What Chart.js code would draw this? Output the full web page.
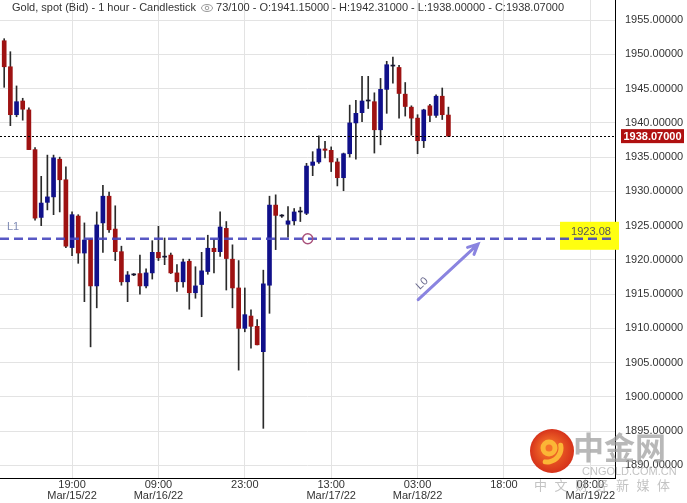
<!DOCTYPE html>
<html>
<head>
<meta charset="utf-8">
<script src="https://cdn.jsdelivr.net/npm/chart.js@4.4.1/dist/chart.umd.min.js"></script>
<style>
  html, body { margin: 0; padding: 0; background: #fff; overflow: hidden; }
</style>
</head>
<body>
<canvas id="myChart" width="687" height="503"></canvas>
<script>
// hourly candles (bar index 0 = Mar/15 08:00)
const opens  = [1952.0,1948.2,1941.2,1943.2,1941.9,1936.1,1926.2,1928.4,1929.2,1934.7,
                1931.7,1921.8,1926.4,1921.0,1923.0,1916.2,1925.4,1929.3,1924.5,1921.2,
                1916.8,1917.8,1918.0,1916.2,1918.1,1921.1,1920.4,1920.7,1918.1,1916.8,
                1919.8,1915.2,1916.4,1918.3,1921.7,1921.2,1924.6,1920.1,1915.9,1910.0,
                1911.8,1910.3,1906.6,1916.3,1928.0,1926.4,1925.2,1925.7,1927.0,1926.8,
                1933.8,1934.3,1936.2,1936.0,1934.3,1932.0,1935.5,1940.0,1941.5,1943.2,
                1943.1,1939.0,1944.9,1948.3,1948.1,1944.2,1942.3,1940.7,1937.4,1942.5,
                1941.1,1943.9,1941.15];
const highs  = [1952.3,1950.4,1945.4,1943.6,1942.2,1936.4,1932.2,1935.3,1935.3,1935.0,
                1933.6,1927.0,1926.6,1925.4,1923.1,1927.0,1930.9,1929.9,1927.9,1922.0,
                1918.3,1918.0,1920.7,1918.7,1922.8,1924.9,1923.2,1921.0,1919.3,1920.1,
                1920.1,1919.0,1921.1,1923.6,1923.0,1927.0,1925.6,1922.2,1919.9,1915.9,
                1912.7,1911.3,1918.5,1929.3,1929.5,1926.6,1927.8,1927.5,1927.7,1934.1,
                1935.8,1938.1,1937.3,1936.5,1934.8,1935.6,1942.6,1943.3,1946.8,1946.8,
                1944.4,1946.5,1949.0,1949.6,1948.4,1945.9,1942.5,1941.2,1942.0,1942.7,
                1944.1,1945.1,1942.31];
const lows   = [1945.2,1939.6,1940.9,1940.4,1936.1,1925.8,1925.0,1927.3,1926.6,1927.0,
                1921.8,1920.6,1919.5,1913.9,1907.3,1913.0,1921.1,1924.0,1919.9,1916.3,
                1913.9,1917.7,1915.0,1915.9,1917.2,1919.9,1919.3,1918.0,1915.4,1916.0,
                1912.8,1914.4,1911.7,1917.9,1918.1,1920.5,1915.6,1913.0,1903.9,1909.5,
                1907.1,1907.6,1895.4,1912.2,1921.5,1926.2,1923.3,1925.1,1925.6,1926.6,
                1932.3,1934.1,1934.9,1932.9,1930.8,1930.1,1935.0,1934.7,1940.2,1942.1,
                1935.6,1936.8,1941.4,1945.8,1940.7,1941.0,1938.2,1935.5,1936.4,1940.2,
                1940.8,1940.5,1938.00];
const closes = [1948.2,1941.2,1943.1,1942.0,1936.1,1926.1,1928.3,1929.2,1934.9,1931.7,
                1922.0,1926.6,1921.0,1922.9,1916.2,1925.1,1929.3,1924.4,1921.2,1916.8,
                1917.8,1917.95,1916.2,1918.1,1921.1,1920.3,1920.55,1918.1,1916.8,1919.7,
                1915.2,1916.2,1918.4,1921.7,1921.2,1924.8,1920.2,1915.9,1910.0,1912.0,
                1910.3,1907.6,1916.5,1928.0,1926.5,1926.55,1925.7,1927.0,1927.15,1933.7,
                1934.3,1936.2,1936.0,1934.3,1932.0,1935.5,1940.0,1941.4,1943.2,1943.35,
                1939.0,1944.9,1948.5,1948.45,1944.3,1942.4,1940.7,1937.4,1941.9,1941.1,
                1943.9,1941.2,1938.07];

// axis ticks
const tickIdx   = [11, 25, 39, 53, 67, 81, 95];
const tickTimes = ['19:00', '09:00', '23:00', '13:00', '03:00', '18:00', '08:00'];
const tickDates = ['Mar/15/22', 'Mar/16/22', '', 'Mar/17/22', 'Mar/18/22', '', 'Mar/19/22'];
const yTicks    = [1890, 1895, 1900, 1905, 1910, 1915, 1920, 1925, 1930, 1935, 1940, 1945, 1950, 1955];

// drawings on the chart
const lastPrice = 1938.07;
const levelL1   = 1923.08;
const markerAt  = [49.2, 1923.08];
const arrowFrom = [67.1, 1914.2];
const arrowTo   = [76.8, 1922.3];

const titleText = 'Gold, spot (Bid) - 1 hour - Candlestick';
const titleInfo = '73/100 - O:1941.15000 - H:1942.31000 - L:1938.00000 - C:1938.07000';

const FONT = "'Liberation Sans', Arial, sans-serif";

function candleColor(i) {
  const d = closes[i] - opens[i];
  if (Math.abs(d) < 0.2) return '#151530';
  return d > 0 ? '#10108a' : '#9e1212';
}

const bodies = opens.map((o, i) => ({ x: i, y: [o, closes[i]] }));
const wicks = lows.map((l, i) => ({ x: i, y: [l, highs[i]] }));

const overlays = {
  id: 'overlays',
  afterDatasetsDraw(chart) {
    const ctx = chart.ctx;
    const xs = chart.scales.x, ys = chart.scales.y;
    const area = chart.chartArea;
    ctx.save();

    // last price dotted line
    const yLast = Math.round(ys.getPixelForValue(lastPrice)) + 0.5;
    ctx.strokeStyle = '#000';
    ctx.lineWidth = 1;
    ctx.setLineDash([2, 2]);
    ctx.beginPath();
    ctx.moveTo(area.left, yLast);
    ctx.lineTo(area.right, yLast);
    ctx.stroke();

    // yellow label box for L1
    const yL1 = ys.getPixelForValue(levelL1);
    ctx.setLineDash([]);
    ctx.fillStyle = '#ffff10';
    ctx.fillRect(area.right - 55, yL1 - 17, 59, 28);

    // L1 dashed line
    ctx.strokeStyle = 'rgba(70,70,190,0.9)';
    ctx.lineWidth = 2.5;
    ctx.setLineDash([9, 5]);
    ctx.beginPath();
    ctx.moveTo(area.left, yL1);
    ctx.lineTo(area.right, yL1);
    ctx.stroke();
    ctx.setLineDash([]);

    ctx.font = '11px ' + FONT;
    ctx.fillStyle = '#555';
    ctx.textAlign = 'center';
    ctx.textBaseline = 'middle';
    ctx.fillText(levelL1.toFixed(2), area.right - 24, yL1 - 7);

    ctx.fillStyle = '#7f8bb5';
    ctx.textAlign = 'left';
    ctx.fillText('L1', area.left + 7, yL1 - 12);

    // small circle marker
    ctx.strokeStyle = '#a8507a';
    ctx.lineWidth = 1.4;
    ctx.beginPath();
    ctx.arc(xs.getPixelForValue(markerAt[0]), ys.getPixelForValue(markerAt[1]), 5, 0, Math.PI * 2);
    ctx.stroke();

    // L0 arrow
    const x0 = xs.getPixelForValue(arrowFrom[0]), y0 = ys.getPixelForValue(arrowFrom[1]);
    const x1 = xs.getPixelForValue(arrowTo[0]), y1 = ys.getPixelForValue(arrowTo[1]);
    const ang = Math.atan2(y1 - y0, x1 - x0);
    ctx.strokeStyle = '#8a84e0';
    ctx.lineWidth = 3;
    ctx.lineCap = 'round';
    ctx.beginPath();
    ctx.moveTo(x0, y0);
    ctx.lineTo(x1, y1);
    ctx.moveTo(x1 + 11 * Math.cos(ang + Math.PI - 0.45), y1 + 11 * Math.sin(ang + Math.PI - 0.45));
    ctx.lineTo(x1, y1);
    ctx.lineTo(x1 + 11 * Math.cos(ang + Math.PI + 0.45), y1 + 11 * Math.sin(ang + Math.PI + 0.45));
    ctx.stroke();

    ctx.save();
    ctx.translate(x0 + 4, y0 - 16);
    ctx.rotate(ang);
    ctx.font = '11px ' + FONT;
    ctx.fillStyle = '#6c6c90';
    ctx.textAlign = 'center';
    ctx.textBaseline = 'middle';
    ctx.fillText('L0', 0, 0);
    ctx.restore();

    ctx.restore();
  },
  afterDraw(chart) {
    const ctx = chart.ctx;
    const ys = chart.scales.y;
    const area = chart.chartArea;
    ctx.save();

    // last price tag
    const yLast = ys.getPixelForValue(lastPrice);
    ctx.fillStyle = '#b01010';
    ctx.fillRect(area.right + 6, yLast - 7, 63, 14);
    ctx.fillStyle = '#fff';
    ctx.font = 'bold 11px ' + FONT;
    ctx.textAlign = 'center';
    ctx.textBaseline = 'middle';
    ctx.fillText(lastPrice.toFixed(5), area.right + 37.5, yLast + 0.5);

    // title line
    ctx.font = '11px ' + FONT;
    ctx.fillStyle = '#333';
    ctx.textAlign = 'left';
    ctx.textBaseline = 'middle';
    ctx.fillText(titleText, 12, 8);
    const w = ctx.measureText(titleText).width;
    const ex = 12 + w + 11, ey = 8;
    ctx.strokeStyle = '#999';
    ctx.lineWidth = 1;
    ctx.beginPath();
    ctx.ellipse(ex, ey, 5.5, 3.5, 0, 0, Math.PI * 2);
    ctx.stroke();
    ctx.beginPath();
    ctx.arc(ex, ey, 1.8, 0, Math.PI * 2);
    ctx.stroke();
    ctx.fillText(titleInfo, ex + 9, 8);

    // watermark
    const cx = 552, cy = 451, r = 22;
    const g = ctx.createRadialGradient(cx - 4, cy - 4, 4, cx, cy, r);
    g.addColorStop(0, '#f5732a');
    g.addColorStop(1, '#d6321a');
    ctx.fillStyle = g;
    ctx.beginPath();
    ctx.arc(cx, cy, r, 0, Math.PI * 2);
    ctx.fill();
    ctx.strokeStyle = '#fbb636';
    ctx.lineWidth = 5;
    ctx.lineCap = 'round';
    ctx.beginPath();
    ctx.arc(cx - 3, cy - 3, 6, 0, Math.PI * 2);
    ctx.stroke();
    ctx.beginPath();
    ctx.arc(cx - 5, cy - 3, 14, -0.2, 1.7);
    ctx.stroke();

    ctx.globalAlpha = 0.7;
    ctx.fillStyle = '#9a9a9a';
    ctx.font = "bold 31px 'Noto Sans CJK SC', sans-serif";
    ctx.textAlign = 'left';
    ctx.textBaseline = 'middle';
    ctx.fillText('中金网', 573, 447);
    ctx.fillStyle = '#aaa';
    ctx.font = '11px ' + FONT;
    ctx.fillText('CNGOLD.COM.CN', 582, 472);
    ctx.font = "13px 'Noto Sans CJK SC', sans-serif";
    const marks = ['中', '文', '财', '经', '新', '媒', '体'];
    marks.forEach((c, k) => ctx.fillText(c, 534 + k * 20.5, 485));
    ctx.restore();
  }
};

const ctx = document.getElementById('myChart').getContext('2d');
const myChart = new Chart(ctx, {
  type: 'bar',
  data: {
    datasets: [{
      label: 'body',
      data: bodies,
      backgroundColor: bodies.map((b, i) => candleColor(i)),
      barThickness: 4,
      grouped: false
    }, {
      label: 'wick',
      data: wicks,
      backgroundColor: '#2a2a2a',
      barThickness: 1,
      grouped: false
    }]
  },
  options: {
    responsive: false,
    animation: false,
    devicePixelRatio: 1,
    layout: { padding: 0 },
    plugins: {
      legend: { display: false },
      tooltip: { enabled: false }
    },
    scales: {
      x: {
        type: 'linear',
        offset: false,
        min: -0.68,
        max: 99.0,
        afterBuildTicks: s => { s.ticks = tickIdx.map(v => ({ value: v })); },
        afterFit: s => { s.height = 25; s.paddingLeft = 0; s.paddingRight = 0; },
        grid: { color: '#e3e3e3', drawTicks: false, offset: false },
        border: { color: '#000', width: 1 },
        ticks: {
          autoSkip: false,
          maxRotation: 0,
          padding: 1,
          color: '#333',
          font: { family: FONT, size: 11, lineHeight: 1.0 },
          callback: v => {
            const k = tickIdx.indexOf(v);
            if (k < 0) return '';
            return tickDates[k] ? [tickTimes[k], tickDates[k]] : tickTimes[k];
          }
        }
      },
      y: {
        type: 'linear',
        position: 'right',
        min: 1888.15,
        max: 1957.95,
        afterBuildTicks: s => { s.ticks = yTicks.map(v => ({ value: v })); },
        afterFit: s => { s.width = 72; s.paddingTop = 0; s.paddingBottom = 0; },
        grid: { color: '#e3e3e3', drawTicks: false },
        border: { color: '#000', width: 1 },
        ticks: {
          padding: 10,
          color: '#333',
          font: { family: FONT, size: 11 },
          callback: v => v.toFixed(5)
        }
      }
    }
  },
  plugins: [overlays]
});
</script>
</body>
</html>
